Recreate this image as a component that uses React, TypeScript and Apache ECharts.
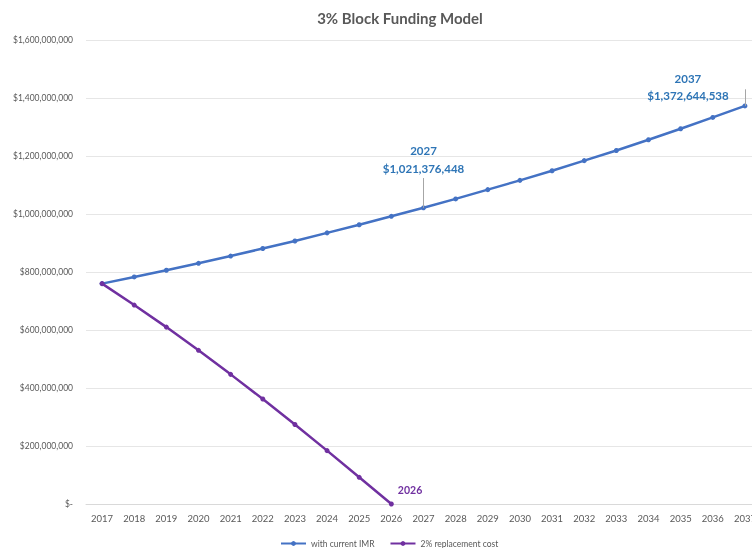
import React, { useEffect, useRef } from "react";
import * as echarts from "echarts";

const years = ["2017","2018","2019","2020","2021","2022","2023","2024","2025","2026","2027","2028","2029","2030","2031","2032","2033","2034","2035","2036","2037"];
const withCurrentIMR = [760000000, 783000000, 806000000, 830000000, 855000000, 881000000, 907000000, 935000000, 963000000, 992000000, 1021376448, 1052000000, 1084000000, 1116000000, 1149000000, 1184000000, 1219000000, 1256000000, 1294000000, 1333000000, 1372644538];
const replacementCost = [760000000, 686000000, 610000000, 530000000, 447000000, 362000000, 274000000, 184000000, 92000000, 0];
const yTicks = { min: 0, max: 1600000000, interval: 200000000 };
const seriesNames = ["with current IMR", "2% replacement cost"];
const FONT = "Lato, 'Open Sans', sans-serif";

const fmt = (v: number) => "$" + v.toLocaleString("en-US");

export default function App() {
  const ref = useRef<HTMLDivElement>(null);
  useEffect(() => {
    const chart = echarts.init(ref.current!, null, { renderer: "svg" });
    const blueData = withCurrentIMR.map((v, i) => {
      if (i === 10) {
        return {
          value: v,
          label: {
            show: true, position: "top", distance: 28,
            formatter: years[i] + "\n" + fmt(v),
            color: "#2E75B6", fontWeight: "bold", fontSize: 11.5, lineHeight: 18, fontFamily: FONT,
          },
        };
      }
      if (i === 20) {
        return {
          value: v,
          label: {
            show: true, position: "top", distance: 0, offset: [-57, 1],
            formatter: years[i] + "\n" + fmt(v),
            color: "#2E75B6", fontWeight: "bold", fontSize: 11.5, lineHeight: 17, fontFamily: FONT,
          },
        };
      }
      return v;
    });
    const purpleData = replacementCost.map((v, i) => {
      if (i === replacementCost.length - 1) {
        return {
          value: v,
          label: {
            show: true, position: "right", distance: 4, offset: [0, -14],
            formatter: years[i], color: "#7030A0", fontWeight: "bold", fontSize: 10.5, fontFamily: FONT,
          },
        };
      }
      return v;
    });
    chart.setOption({
      animation: false,
      title: {
        text: "3% Block Funding Model",
        left: 395, top: 5, textAlign: "center",
        textStyle: { fontFamily: FONT, fontSize: 15, fontWeight: "bold", color: "#595959" },
      },
      legend: {
        left: 275, top: 534, itemWidth: 25, itemHeight: 6, itemGap: 15,
        textStyle: { fontFamily: FONT, fontSize: 8.5, color: "#595959" },
        data: seriesNames,
      },
      grid: { left: 86, top: 40, width: 675, height: 464, containLabel: false },
      xAxis: {
        type: "category", data: years, boundaryGap: true,
        axisLine: { show: true, lineStyle: { color: "#d9d9d9" } },
        axisTick: { show: false },
        axisLabel: { color: "#595959", fontSize: 9.5, fontFamily: FONT, margin: 9, interval: 0 },
      },
      yAxis: {
        type: "value", min: yTicks.min, max: yTicks.max, interval: yTicks.interval,
        axisLine: { show: false }, axisTick: { show: false },
        splitLine: { lineStyle: { color: "#e6e6e6" } },
        axisLabel: {
          color: "#595959", fontSize: 8.5, fontFamily: FONT, margin: 13,
          formatter: (v: number) => (v === 0 ? "$-" : fmt(v)),
        },
      },
      series: [
        {
          name: seriesNames[0], type: "line", data: blueData,
          symbol: "circle", symbolSize: 5, showAllSymbol: true,
          lineStyle: { color: "#4472C4", width: 2.5 },
          itemStyle: { color: "#4472C4" },
          z: 2,
          markLine: {
            silent: true, symbol: "none", label: { show: false },
            lineStyle: { color: "#a6a6a6", width: 1, type: "solid" },
            data: [
              [{ coord: [years[10], withCurrentIMR[10]] }, { coord: [years[10], 1124000000] }],
              [{ coord: [years[20], withCurrentIMR[20]] }, { coord: [years[20], 1430000000] }],
            ],
          },
        },
        {
          name: seriesNames[1], type: "line", data: purpleData,
          symbol: "circle", symbolSize: 5, showAllSymbol: true,
          lineStyle: { color: "#7030A0", width: 2.5 },
          itemStyle: { color: "#7030A0" },
          z: 3,
        },
      ],
    });
    return () => chart.dispose();
  }, []);
  return (
    <div style={{ position: "fixed", left: 0, top: 0, width: 752, height: 548, overflow: "hidden" }}>
      <div ref={ref} style={{ width: 770, height: 548, position: "absolute", left: 0, top: 0 }} />
    </div>
  );
}
